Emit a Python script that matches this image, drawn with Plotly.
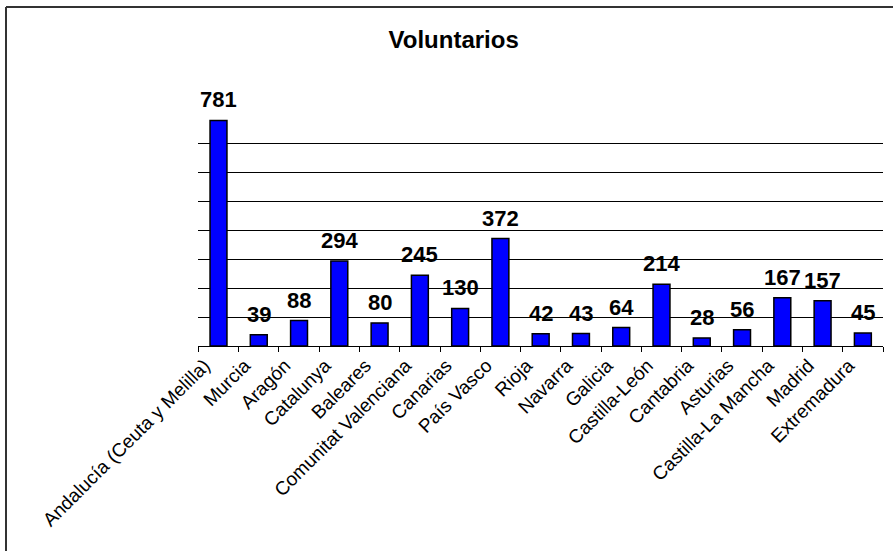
"""Voluntarios por comunidad - bar chart recreated with Plotly."""

import plotly.graph_objects as go

regiones = [
    "Andalucía (Ceuta y Melilla)", "Murcia", "Aragón", "Catalunya", "Baleares",
    "Comunitat Valenciana", "Canarias", "País Vasco", "Rioja", "Navarra",
    "Galicia", "Castilla-León", "Cantabria", "Asturias", "Castilla-La Mancha",
    "Madrid", "Extremadura",
]
voluntarios = [781, 39, 88, 294, 80, 245, 130, 372, 42, 43, 64, 214, 28, 56, 167, 157, 45]

W, H = 893, 551
ML, MR, MT, MB = 198, 10, 115, 205
FONT = "Liberation Sans, Arial, sans-serif"

fig = go.Figure()

fig.add_trace(go.Bar(
    x=regiones,
    y=voluntarios,
    marker=dict(color="#0000ff", line=dict(color="black", width=1.5)),
    width=0.42,
    hoverinfo="x+y",
))

# value labels, lifted a little above each bar like the original
for reg, val in zip(regiones, voluntarios):
    fig.add_annotation(
        x=reg, y=val, text=f"<b>{val}</b>",
        showarrow=False, yanchor="bottom", yshift=6,
        font=dict(family=FONT, size=22, color="black"),
    )

# outer frame (only top and left edges visible in the reference)
pw, ph = W - ML - MR, H - MT - MB
px = lambda v: (v - ML) / pw
py = lambda v: (H - MB - v) / ph
frame = dict(color="#333333", width=2)
fig.add_shape(type="line", xref="paper", yref="paper",
              x0=px(6), x1=px(W), y0=py(7), y1=py(7), line=frame)
fig.add_shape(type="line", xref="paper", yref="paper",
              x0=px(6), x1=px(6), y0=py(7), y1=py(H), line=frame)

fig.update_layout(
    width=W,
    height=H,
    margin=dict(l=ML, r=MR, t=MT, b=MB),
    paper_bgcolor="white",
    plot_bgcolor="white",
    showlegend=False,
    title=dict(
        text="<b>Voluntarios</b>",
        font=dict(family=FONT, size=24, color="black"),
        x=0.508, xanchor="center",
        y=1 - 40 / H, yanchor="middle",
    ),
    font=dict(family=FONT, color="black"),
    xaxis=dict(
        tickangle=-45,
        tickfont=dict(family=FONT, size=19, color="black"),
        ticklabelshift=-14,
        showline=True, linecolor="black", linewidth=1,
        ticks="outside", tickson="boundaries", ticklen=5, tickcolor="black",
        showgrid=False,
    ),
    yaxis=dict(
        range=[0, 800],
        dtick=100,
        showticklabels=False,
        showline=False,
        ticks="",
        showgrid=True, gridcolor="black", gridwidth=1,
        zeroline=False,
    ),
)

fig.write_html(
    "out.html",
    config={"displayModeBar": False},
    post_script="document.body.style.margin='0';document.body.style.overflow='hidden';",
)
